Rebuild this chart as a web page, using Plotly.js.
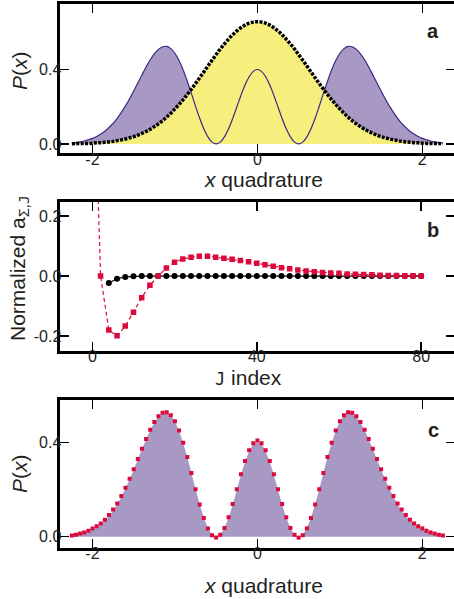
<!DOCTYPE html>
<html><head><meta charset="utf-8">
<script src="https://cdn.plot.ly/plotly-3.0.1.min.js"></script>
<style>html,body{margin:0;padding:0;overflow:hidden;background:#fff}</style>
</head><body><div id="chart" style="width:460px;height:599px"></div>
<script>
// x quadrature grid (panels a and c)
const xq = [-2.25,-2.2,-2.15,-2.1,-2.05,-2.0,-1.95,-1.9,-1.85,-1.8,-1.75,-1.7,-1.65,-1.6,-1.55,-1.5,-1.45,-1.4,-1.35,-1.3,-1.25,-1.2,-1.15,-1.1,-1.05,-1.0,-0.95,-0.9,-0.85,-0.8,-0.75,-0.7,-0.65,-0.6,-0.55,-0.5,-0.45,-0.4,-0.35,-0.3,-0.25,-0.2,-0.15,-0.1,-0.05,0,
0.05,0.1,0.15,0.2,0.25,0.3,0.35,0.4,0.45,0.5,0.55,0.6,0.65,0.7,0.75,0.8,0.85,0.9,0.95,1.0,1.05,1.1,1.15,1.2,1.25,1.3,1.35,1.4,1.45,1.5,1.55,1.6,1.65,1.7,1.75,1.8,1.85,1.9,1.95,2.0,2.05,2.1,2.15,2.2,2.25];
// Gaussian (yellow, black dots) in panel a
const gaussP = [0.001,0.002,0.002,0.003,0.003,0.004,0.006,0.007,0.009,0.011,0.014,0.018,0.022,0.027,0.033,0.039,0.047,0.057,0.067,0.079,0.093,0.108,0.125,0.144,0.165,0.188,0.212,0.238,0.265,0.294,0.324,0.355,0.386,0.418,0.449,0.479,0.509,0.536,0.562,0.585,0.606,0.623,0.637,0.647,0.653,0.655,
0.653,0.647,0.637,0.623,0.606,0.585,0.562,0.536,0.509,0.479,0.449,0.418,0.386,0.355,0.324,0.294,0.265,0.238,0.212,0.188,0.165,0.144,0.125,0.108,0.093,0.079,0.067,0.057,0.047,0.039,0.033,0.027,0.022,0.018,0.014,0.011,0.009,0.007,0.006,0.004,0.003,0.003,0.002,0.002,0.001];
// target distribution (purple) in panels a and c
const fockP = [0.006,0.008,0.012,0.016,0.022,0.030,0.040,0.053,0.068,0.088,0.110,0.137,0.169,0.204,0.242,0.284,0.327,0.370,0.412,0.451,0.483,0.507,0.521,0.523,0.511,0.486,0.447,0.396,0.336,0.270,0.202,0.138,0.082,0.038,0.010,0.000,0.010,0.038,0.081,0.136,0.198,0.260,0.316,0.360,0.389,0.399,
0.389,0.360,0.316,0.260,0.198,0.136,0.081,0.038,0.010,0.000,0.010,0.038,0.082,0.138,0.202,0.270,0.336,0.396,0.447,0.486,0.511,0.523,0.521,0.507,0.483,0.451,0.412,0.370,0.327,0.284,0.242,0.204,0.169,0.137,0.110,0.088,0.068,0.053,0.040,0.030,0.022,0.016,0.012,0.008,0.006];
// reconstructed distribution (red squares) in panel c
const measP = [0.005,0.008,0.013,0.018,0.025,0.035,0.044,0.056,0.072,0.092,0.115,0.141,0.172,0.207,0.245,0.286,0.329,0.372,0.414,0.453,0.486,0.510,0.525,0.527,0.514,0.489,0.450,0.398,0.337,0.270,0.201,0.136,0.079,0.035,0.006,-0.004,0.008,0.037,0.082,0.138,0.201,0.264,0.321,0.366,0.396,0.407,
0.396,0.366,0.321,0.264,0.201,0.138,0.082,0.037,0.008,-0.004,0.006,0.035,0.079,0.136,0.201,0.270,0.337,0.398,0.450,0.489,0.514,0.527,0.525,0.510,0.486,0.453,0.414,0.372,0.329,0.286,0.245,0.207,0.172,0.141,0.115,0.092,0.072,0.056,0.044,0.035,0.025,0.018,0.013,0.008,0.005];
// panel b
const jRed = [0,2,4,6,8,10,12,14,16,18,20,22,24,26,28,30,32,34,36,38,40,42,44,46,48,50,52,54,56,58,60,62,64,66,68,70,72,74,76,78,80];
const aRed = [0.86,0.000,-0.180,-0.199,-0.167,-0.121,-0.072,-0.031,0.000,0.027,0.046,0.057,0.063,0.066,0.066,0.063,0.059,0.056,0.052,0.048,0.043,0.038,0.033,0.028,0.024,0.020,0.017,0.014,0.012,0.010,0.009,0.007,0.006,0.005,0.004,0.003,0.002,0.002,0.001,0.001,0.000];
const jBlack = [4,6,8,10,12,14,16,18,20,22,24,26,28,30,32,34,36,38,40,42,44,46,48,50,52,54,56,58,60,62,64,66,68,70,72,74,76,78,80];
const aBlack = [-0.023,-0.009,-0.003,-0.001,0,0,0,0,0,0,0,0,0,0,0,0,0,0,0,0,0,0,0,0,0,0,0,0,0,0,0,0,0,0,0,0,0,0,0];
// tick labels
const xqTicks = [-2,0,2], xqTickText = ['-2','0','2'];
const pTicks = [0,0.4], pTickText = ['0.0','0.4'];
const jTicks = [0,40,80], jTickText = ['0','40','80'];
const aTicks = [-0.2,0,0.2], aTickText = ['-0.2','0.0','0.2'];

const FONT = 'Liberation Sans, Arial, sans-serif';
const TXT = '#231f20';
const PURPLE = '#a898c4', PURPLE_LINE = '#3b2888', YELLOW = '#f6ef7e', RED = '#dc0a3c';
const W = 460, H = 599;
const XDOM = [59.5/W, 455.3/W];

function ax(extra, isY){
  return Object.assign({showline:true, linewidth:3, linecolor:'#000', mirror:'ticks', ticks:'inside', ticklen:9, tickwidth:1.5, tickcolor:'#000', showgrid:false, zeroline:false, fixedrange:true, tickfont:{family:FONT, size:16, color:TXT}, tickmode:'array', ticklabelstandoff: isY ? -8 : -11}, extra);
}
function ann(text, px, py, angle, size){
  return {text:text, xref:'paper', yref:'paper', x:px/W, y:1-py/H, xanchor:'center', yanchor:'middle', showarrow:false, textangle:angle||0, font:{family:FONT, size:size||21, color:TXT}};
}

const traces = [
  {x:xq, y:fockP, xaxis:'x', yaxis:'y', mode:'lines', line:{width:0, shape:'spline', color:PURPLE}, fill:'tozeroy', fillcolor:PURPLE, hoverinfo:'skip'},
  {x:xq, y:gaussP, xaxis:'x', yaxis:'y', mode:'lines', line:{width:0, shape:'spline', color:YELLOW}, fill:'tozeroy', fillcolor:YELLOW, hoverinfo:'skip'},
  {x:xq, y:fockP, xaxis:'x', yaxis:'y', mode:'lines', line:{width:1.2, shape:'spline', color:PURPLE_LINE}},
  {x:xq, y:gaussP, xaxis:'x', yaxis:'y', mode:'lines', line:{width:3.5, shape:'spline', color:'#000', dash:'3px,1.4px'}},
  {x:jBlack, y:aBlack, xaxis:'x2', yaxis:'y2', mode:'lines+markers', line:{width:1.2, color:'#000'}, marker:{size:6, color:'#000'}, cliponaxis:true},
  {x:jRed, y:aRed, xaxis:'x2', yaxis:'y2', mode:'lines+markers', line:{width:1.2, color:RED, dash:'4px,3px'}, marker:{size:5.5, symbol:'square', color:RED}, cliponaxis:true},
  {x:xq, y:fockP, xaxis:'x3', yaxis:'y3', mode:'lines', line:{width:0, shape:'spline', color:PURPLE}, fill:'tozeroy', fillcolor:PURPLE, hoverinfo:'skip'},
  {x:xq, y:measP, xaxis:'x3', yaxis:'y3', mode:'markers', marker:{size:4, symbol:'square', color:RED}}
];

const layout = {
  width:W, height:H, margin:{l:0,r:0,t:0,b:0}, showlegend:false,
  paper_bgcolor:'#fff', plot_bgcolor:'#fff', font:{family:FONT, color:TXT},
  xaxis: ax({domain:XDOM, anchor:'y', range:[-2.4,2.4], tickvals:xqTicks, ticktext:xqTickText}),
  yaxis: ax({domain:[1-153.3/H, 1-4/H], anchor:'x', range:[-0.05,0.75], tickvals:pTicks, ticktext:pTickText}, true),
  xaxis2: ax({domain:XDOM, anchor:'y2', range:[-8,88.3], tickvals:jTicks, ticktext:jTickText}),
  yaxis2: ax({domain:[1-350.7/H, 1-201.7/H], anchor:'x2', range:[-0.249,0.248], tickvals:aTicks, ticktext:aTickText}, true),
  xaxis3: ax({domain:XDOM, anchor:'y3', range:[-2.4,2.4], tickvals:xqTicks, ticktext:xqTickText}),
  yaxis3: ax({domain:[1-548/H, 1-400/H], anchor:'x3', range:[-0.048,0.579], tickvals:pTicks, ticktext:pTickText}, true),
  annotations:[
    ann('<i>x</i> quadrature', 263, 179),
    ann('<i>P</i>(<i>x</i>)', 20, 71, -90),
    ann('<span style="font-family:DejaVu Sans Mono;font-size:17px">J</span> index', 248, 377),
    ann('Normalized a<sub>Σ,<span style="font-family:DejaVu Sans Mono">J</span></sub>', 19, 268, -90),
    ann('<i>x</i> quadrature', 263, 585),
    ann('<i>P</i>(<i>x</i>)', 20, 474, -90),
    ann('<b>a</b>', 433, 31, 0, 20),
    ann('<b>b</b>', 433, 230, 0, 20),
    ann('<b>c</b>', 433, 430, 0, 20)
  ]
};
Plotly.newPlot('chart', traces, layout, {displayModeBar:false, staticPlot:true});
</script></body></html>
